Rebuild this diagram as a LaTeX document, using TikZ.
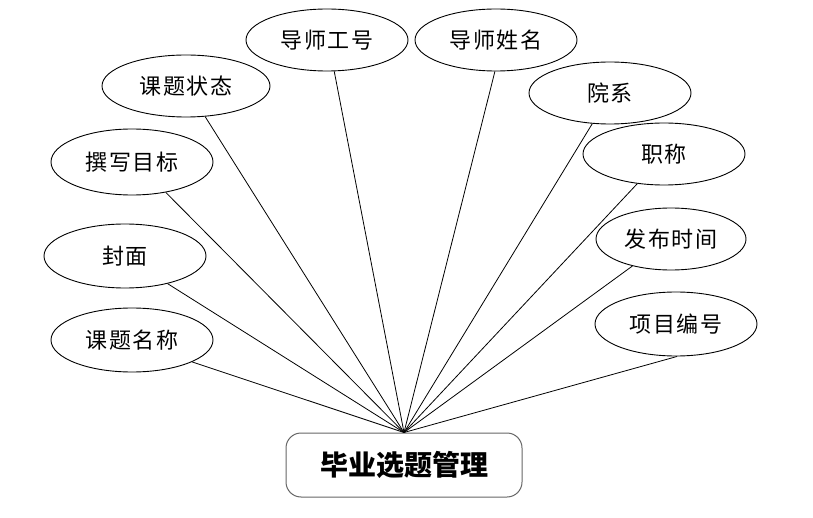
\documentclass[tikz,border=0pt]{standalone}
\usepackage{fontspec}
\newfontfamily\cjk{Noto Sans CJK SC}
\newfontfamily\cjkwide{Noto Sans CJK SC}[LetterSpace=8]
\usetikzlibrary{shapes.geometric}

\begin{document}
\begin{tikzpicture}[
  x=1pt, y=1pt,
  attr/.style={draw, ellipse, line width=0.9pt, inner sep=0pt,
               minimum width=162pt, minimum height=62pt,
               font=\cjkwide\fontsize{22}{22}\selectfont},
  sysbox/.style={draw=black!60, rounded corners=15pt, line width=1pt,
                 minimum width=236pt, minimum height=64pt,
                 font=\cjk\bfseries\fontsize{28}{28}\selectfont},
  link/.style={line width=0.8pt}
]
\useasboundingbox (0,0) rectangle (813,-518);
\node[sysbox] (sys) at (404,-465) {毕业选题管理};
% attributes, left side
\node[attr] (tid)   at (327,-40)  {导师工号};
\node[attr, minimum width=168pt] (state) at (186,-86)  {课题状态};
\node[attr, minimum height=66pt] (goal)  at (132,-162) {撰写目标};
\node[attr, minimum height=64pt] (cover) at (125,-256) {封面};
\node[attr, minimum height=64pt] (title) at (132,-340) {课题名称};
% attributes, right side
\node[attr] (tname) at (496,-40)  {导师姓名};
\node[attr] (dept)  at (610,-93)  {院系};
\node[attr] (rank)  at (664,-154) {职称};
\node[attr, minimum width=150pt] (time)  at (671,-239) {发布时间};
\node[attr, minimum height=64pt] (pid)   at (676,-324) {项目编号};
\draw[link] (title.-20) -- (sys.north); \draw[link] (cover.-33) -- (sys.north);
\draw[link] (goal.-42) -- (sys.north);  \draw[link] (state.-58) -- (sys.north);
\draw[link] (tid.-77) -- (sys.north);   \draw[link] (tname.-92) -- (sys.north);
\draw[link] (dept.-120) -- (sys.north); \draw[link] (rank.-132) -- (sys.north);
\draw[link] (time.-145) -- (sys.north); \draw[link] (pid.-88) -- (sys.north);
\end{tikzpicture}
\end{document}
